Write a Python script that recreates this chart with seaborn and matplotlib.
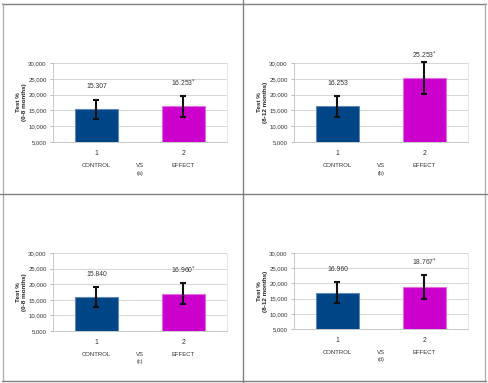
import matplotlib
matplotlib.use("Agg")
import matplotlib.pyplot as plt
import seaborn as sns
import pandas as pd
from matplotlib.lines import Line2D
from matplotlib.transforms import blended_transform_factory

sns.set_theme(style="white")
plt.rcParams['font.family'] = ['Liberation Sans', 'DejaVu Sans']

# ---- data ----
groups = ["CONTROL", "EFFECT"]
tick_labels = ["1", "2"]
panel_letters = ["(a)", "(b)", "(c)", "(d)"]
ylabels = ["Test %\n(0-8 months)", "Test %\n(8-12 months)",
           "Test %\n(0-8 months)", "Test %\n(8-12 months)"]
means_a = [15307, 16253]
means_b = [16253, 25253]
means_c = [15840, 16960]
means_d = [16960, 18767]
errs_a = [3050, 3250]
errs_b = [3250, 5050]
errs_c = [3150, 3350]
errs_d = [3350, 3900]
value_labels_a = ["15.307", "16.253$^{*}$"]
value_labels_b = ["16.253", "25.253$^{*}$"]
value_labels_c = ["15.840", "16.960$^{*}$"]
value_labels_d = ["16.960", "18.767$^{*}$"]

panels = [
    (means_a, errs_a, value_labels_a),
    (means_b, errs_b, value_labels_b),
    (means_c, errs_c, value_labels_c),
    (means_d, errs_d, value_labels_d),
]

W, H = 489, 383
fig = plt.figure(figsize=(W / 100, H / 100), dpi=100)
fig.patch.set_facecolor("white")

# axes rectangles in pixel coords: left, top, right, bottom
rects = [(53, 63, 227, 142), (294, 63, 468, 142),
         (53, 253, 227, 331), (294, 253, 468, 329)]

colors = ["#004586", "#cc00cc"]
edges = ["#6088b8", "#e070e0"]
txt_color = "#333333"
fs_tick = 4.3
fs_val = 4.9
fs_name = 4.3

for i, ((means, errs, vlabels), (l, t, r, b)) in enumerate(zip(panels, rects)):
    ax = fig.add_axes([l / W, 1 - b / H, (r - l) / W, (b - t) / H])
    df = pd.DataFrame({"group": groups, "value": means})
    sns.barplot(data=df, x="group", y="value", hue="group", order=groups,
                palette=colors, saturation=1, width=0.5, ax=ax, legend=False,
                zorder=2)
    for p, ec in zip(ax.patches, edges):
        p.set_edgecolor(ec)
        p.set_linewidth(0.8)
    xs = list(range(len(groups)))
    ax.errorbar(xs, means, yerr=errs, fmt="none", ecolor="#111111",
                elinewidth=1.5, capsize=2.5, capthick=1.5, zorder=3,
                clip_on=False)
    ax.set_xlim(-0.5, 1.5)
    ax.set_ylim(5000, 30000)
    ax.set_yticks(range(5000, 30001, 5000))
    ax.set_yticklabels([f"{v:,}" for v in range(5000, 30001, 5000)],
                       fontsize=fs_tick, color=txt_color)
    ax.yaxis.grid(True, color="#d0d0d0", linewidth=0.6, zorder=0)
    ax.set_axisbelow(True)
    ax.set_xticks(xs)
    ax.set_xticklabels(tick_labels, fontsize=fs_val, color=txt_color)
    ax.set_xticks([-0.5, 0.5, 1.5], minor=True)
    ax.tick_params(axis="x", which="major", length=0, pad=6)
    ax.tick_params(axis="x", which="minor", length=3, color="#b0b0b0",
                   width=0.6, direction="out")
    ax.tick_params(axis="y", length=2.5, color="#b0b0b0", width=0.6,
                   direction="out", pad=2.0, left=True)
    for s in ["left", "bottom"]:
        ax.spines[s].set_color("#c0c0c0")
        ax.spines[s].set_linewidth(0.6)
    ax.spines["right"].set_color("#e0e0e0")
    ax.spines["right"].set_linewidth(0.6)
    ax.spines["top"].set_visible(False)
    ax.set_xlabel("")
    ax.set_ylabel(ylabels[i], fontsize=4.5, fontweight="bold", color="#222222",
                  va="center", linespacing=1.15)
    ax.yaxis.set_label_coords(-0.18, 0.5)

    # value labels above error bars
    px = 25000 / (b - t)
    for x, m, e, lab in zip(xs, means, errs, vlabels):
        y = min(m + e + 13 * px, 30000 + 8 * px)
        ax.text(x, y, lab, ha="center", va="center", fontsize=fs_val,
                color=txt_color, clip_on=False)

    # group names under ticks
    trans = blended_transform_factory(ax.transData, ax.transAxes)
    hpx = b - t
    y_names = -23 / hpx
    y_letter = -31 / hpx
    for x, g in zip(xs, groups):
        ax.text(x, y_names, g, transform=trans, ha="center", va="center",
                fontsize=fs_name, color=txt_color)
    ax.text(0.5, y_names, "VS", transform=trans, ha="center", va="center",
            fontsize=fs_name, color=txt_color)
    ax.text(0.5, y_letter, panel_letters[i], transform=trans, ha="center",
            va="center", fontsize=fs_name - 0.3, color=txt_color)

# frame / divider lines
def fline(x0, y0, x1, y1, c="#808080", lw=1.0):
    fig.add_artist(Line2D([x0 / W, x1 / W], [1 - y0 / H, 1 - y1 / H],
                          color=c, linewidth=lw, transform=fig.transFigure))

fline(2, 3.5, 486, 3.5)
fline(2.5, 3, 2.5, 381, c="#b0b0b0")
fline(485.5, 3, 485.5, 381, c="#b0b0b0")
fline(2, 381, 486, 381)
fline(243, 0, 243, 383)
fline(0, 194, 489, 194)

fig.savefig("out.png", dpi=100, facecolor="white")
